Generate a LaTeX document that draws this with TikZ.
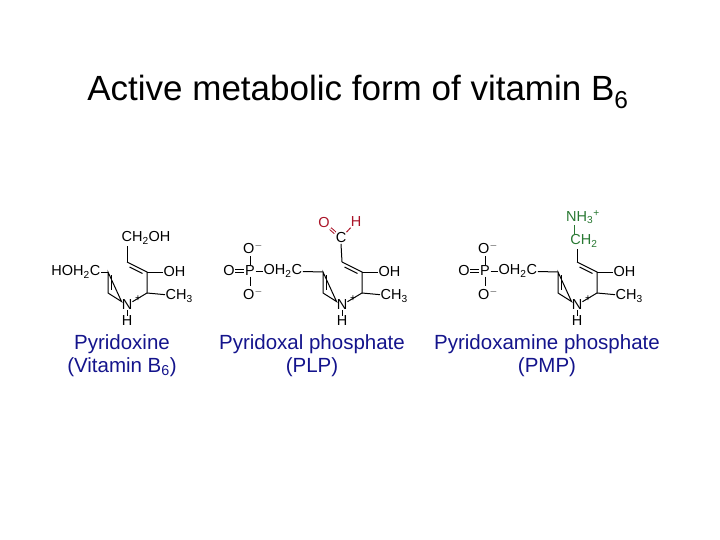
\documentclass[tikz,border=0pt]{standalone}
\usepackage{fontspec}
\setmainfont{Liberation Sans}
\definecolor{namecol}{RGB}{20,20,140}
\definecolor{aldcol}{RGB}{170,20,40}
\definecolor{amcol}{RGB}{40,120,50}
\tikzset{
  atom/.style={inner sep=0.5pt,font=\fontsize{14.5}{14.5}\selectfont},
  bond/.style={line width=1pt},
  cname/.style={font=\fontsize{20.5}{23}\selectfont,text=namecol,align=center},
}
% pyridine ring with its fixed substituents, shifted by #1
\newcommand{\pyring}[2]{%
  \begin{scope}[xshift=#1pt]
  \coordinate (#2c4) at (127,-262);
  \coordinate (#2c3) at (147,-272);
  \coordinate (#2c2) at (147,-293);
  \coordinate (#2c6) at (108,-293);
  \coordinate (#2c5) at (108,-272);
  \node[atom,inner sep=0pt] (#2n) at (127,-305) {N};
  \node[atom,inner sep=0pt] (#2h) at (127,-321) {H};
  \node[atom,font=\fontsize{10}{10}\selectfont] (#2plus) at (138,-299) {+};
  \node[atom,anchor=west] (#2oh) at (163,-272) {OH};
  \node[atom,anchor=west] (#2me) at (165,-296) {CH\textsubscript{3}};
  \draw[bond] (#2c4) -- (#2c3) -- (#2c2) -- (#2n) -- (#2c6) -- (#2c5) -- cycle;
  \draw[bond] ($(#2c4)!0.2!(#2c3)+(-1.5,-3)$) -- ($(#2c4)!0.85!(#2c3)+(-1.5,-3)$);
  \draw[bond] ($(#2c5)!0.15!(#2c6)+(3.5,0)$) -- ($(#2c5)!0.85!(#2c6)+(3.5,0)$);
  \draw[bond] (#2c3) -- (#2oh);
  \draw[bond] (#2c2) -- (#2me);
  \draw[bond] (#2n) -- (#2h);
  \end{scope}}
% phosphate group ending at the ring's CH2
\newcommand{\phos}[2]{%
  \begin{scope}[xshift=#1pt]
  \node[atom] (#2p) at (250,-271) {P};
  \node[atom] (#2o) at (229,-271) {O};
  \node[atom] (#2ot) at (253,-248) {O\textsuperscript{$-$}};
  \node[atom] (#2ob) at (253,-294) {O\textsuperscript{$-$}};
  \node[atom,anchor=west] (#2ch) at (263,-271) {OH\textsubscript{2}C};
  \draw[bond,double,double distance=1.5pt] (#2o) -- (#2p);
  \draw[bond] (#2p) -- (#2ch);
  \draw[bond] (#2p.north) -- (250,-256);
  \draw[bond] (#2p.south) -- (250,-286);
  \end{scope}}
\usetikzlibrary{calc}
\begin{document}
\begin{tikzpicture}[x=1pt,y=1pt]
\useasboundingbox (0,0) rectangle (720,-540);
\node[font=\fontsize{35}{38}\selectfont] (title) at (358,-92) {Active metabolic form of vitamin B\textsubscript{6}};

% Pyridoxine
\pyring{0}{a}
\node[atom] (ach) at (146,-238) {CH\textsubscript{2}OH};
\node[atom,anchor=east] (aho) at (101,-272) {HOH\textsubscript{2}C};
\draw[bond] (ac4) -- (127,-246);
\draw[bond] (ac5) -- (aho);
\node[cname] (aname) at (122,-356) {Pyridoxine\\(Vitamin B\textsubscript{6})};

% PLP
\pyring{215}{b}
\phos{0}{b}
\draw[bond] (bch) -- (bc5);
\node[atom] (bc) at (341,-238) {C};
\node[atom,text=aldcol] (bo) at (324,-223) {O};
\node[atom,text=aldcol] (bh) at (356,-222) {H};
\draw[bond] (bc4) -- (bc.south);
\draw[bond,aldcol,double,double distance=1.2pt] (bo) -- (bc);
\draw[bond,aldcol] (bc) -- (bh);
\node[cname] (bname) at (312,-356) {Pyridoxal phosphate\\(PLP)};

% PMP
\pyring{450}{c}
\phos{235}{c}
\draw[bond] (cch) -- (cc5);
\node[atom,text=amcol] (cnh) at (583,-217) {NH\textsubscript{3}\textsuperscript{+}};
\node[atom,text=amcol] (cch2) at (584,-241) {CH\textsubscript{2}};
\draw[bond] (cc4) -- (577,-249);
\draw[bond,amcol] (574,-225) -- (574,-234);
\node[cname] (cname) at (547,-356) {Pyridoxamine phosphate\\(PMP)};
\end{tikzpicture}
\end{document}
